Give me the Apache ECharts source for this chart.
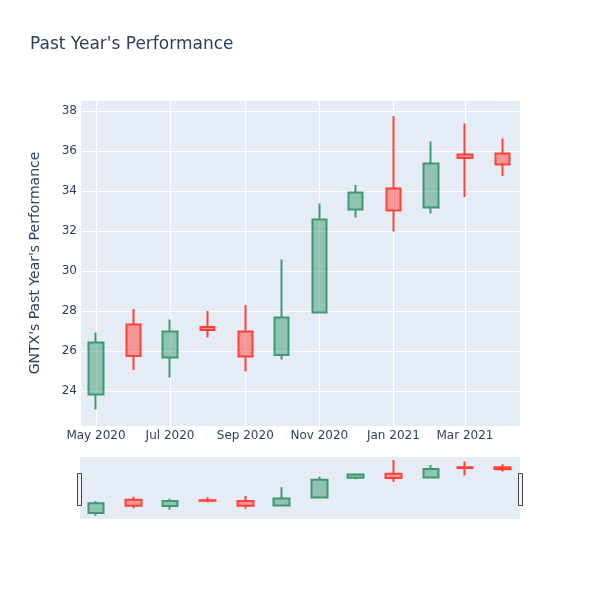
<!DOCTYPE html>
<html>
<head>
<meta charset="utf-8">
<script src="https://cdn.jsdelivr.net/npm/echarts@6/dist/echarts.min.js"></script>
<style>html,body{margin:0;padding:0;background:#fff}#c{width:600px;height:600px}</style>
</head>
<body>
<div id="c"></div>
<script>
const dates = ['2020-05-01','2020-06-01','2020-07-01','2020-08-01','2020-09-01','2020-10-01','2020-11-01','2020-12-01','2021-01-01','2021-02-01','2021-03-01','2021-04-01'];
const opens  = [23.83, 27.33, 25.68, 27.20, 26.97, 25.80, 27.93, 33.08, 34.13, 33.17, 35.83, 35.88];
const closes = [26.42, 25.75, 26.97, 27.05, 25.72, 27.67, 32.58, 33.92, 33.03, 35.38, 35.65, 35.33];
const lows   = [23.08, 25.05, 24.67, 26.68, 24.97, 25.58, 27.87, 32.67, 31.97, 32.88, 33.70, 34.75];
const highs  = [26.93, 28.10, 27.58, 28.00, 28.30, 30.58, 33.38, 34.30, 37.75, 36.47, 37.37, 36.63];
const yTickLabels = ['24','26','28','30','32','34','36','38'];

const MONTHS = ['Jan','Feb','Mar','Apr','May','Jun','Jul','Aug','Sep','Oct','Nov','Dec'];
const toTs = s => { const p = s.split('-').map(Number); return Date.UTC(p[0], p[1]-1, p[2]); };
const data = dates.map((d, i) => [toTs(d), opens[i], closes[i], lows[i], highs[i]]);

const FONT = '"DejaVu Sans", Verdana, sans-serif';
const TXT = '#2a3f5f';
const xMin = Date.UTC(2020, 3, 17, 20);
const xMax = Date.UTC(2021, 3, 15, 8);
const yMin = 22.25, yMax = 38.55;
const DAY = 86400000;

const candleStyle = {
  color: 'rgba(61,153,112,0.5)',
  color0: 'rgba(255,65,54,0.5)',
  borderColor: '#3D9970',
  borderColor0: '#FF4136',
  borderWidth: 2
};

const chart = echarts.init(document.getElementById('c'), null, {renderer: 'canvas'});
chart.setOption({
  useUTC: true,
  animation: false,
  backgroundColor: '#fff',
  textStyle: {fontFamily: FONT},
  title: {
    text: "Past Year's Performance",
    left: 25, top: 31,
    textStyle: {fontFamily: FONT, fontSize: 17, fontWeight: 'normal', color: TXT}
  },
  grid: [
    {left: 80, right: 80, top: 100, height: 326, show: true, backgroundColor: '#E5ECF6', borderWidth: 0, containLabel: false},
    {left: 80, right: 80, top: 457, height: 62, show: true, backgroundColor: '#E5ECF6', borderWidth: 0, containLabel: false}
  ],
  xAxis: [
    {
      type: 'time', gridIndex: 0, min: xMin, max: xMax,
      splitNumber: 6, minInterval: 65 * DAY, maxInterval: 65 * DAY,
      axisLine: {show: false}, axisTick: {show: false},
      splitLine: {show: true, lineStyle: {color: '#fff', width: 1}},
      axisLabel: {
        color: TXT, fontSize: 12, fontFamily: FONT, margin: 4,
        showMinLabel: false, showMaxLabel: false, hideOverlap: false,
        formatter: v => { const d = new Date(v); return MONTHS[d.getUTCMonth()] + ' ' + d.getUTCFullYear(); }
      }
    },
    {
      type: 'time', gridIndex: 1, min: xMin, max: xMax, show: false
    }
  ],
  yAxis: [
    {
      type: 'value', gridIndex: 0, min: yMin, max: yMax, splitNumber: 8,
      name: "GNTX's Past Year's Performance", nameLocation: 'middle', nameGap: 38,
      nameTextStyle: {color: TXT, fontSize: 14, fontFamily: FONT},
      axisLine: {show: false}, axisTick: {show: false},
      splitLine: {show: true, lineStyle: {color: '#fff', width: 1}},
      axisLabel: {
        color: TXT, fontSize: 12, fontFamily: FONT, margin: 3,
        showMinLabel: false, showMaxLabel: false,
        formatter: v => yTickLabels.indexOf(String(v)) >= 0 ? String(v) : ''
      }
    },
    {
      type: 'value', gridIndex: 1, min: yMin, max: yMax, show: false
    }
  ],
  series: [
    {
      type: 'candlestick', xAxisIndex: 0, yAxisIndex: 0, data: data,
      barWidth: 15, itemStyle: candleStyle
    },
    {
      type: 'candlestick', xAxisIndex: 1, yAxisIndex: 1, data: data,
      barWidth: 16, itemStyle: candleStyle, silent: true
    }
  ],
  graphic: [
    {type: 'rect', left: 77, top: 473, shape: {width: 4, height: 32}, style: {fill: '#f2f2f2', stroke: '#444', lineWidth: 1}},
    {type: 'rect', left: 518, top: 473, shape: {width: 4, height: 32}, style: {fill: '#f2f2f2', stroke: '#444', lineWidth: 1}}
  ]
});
</script>
</body>
</html>
